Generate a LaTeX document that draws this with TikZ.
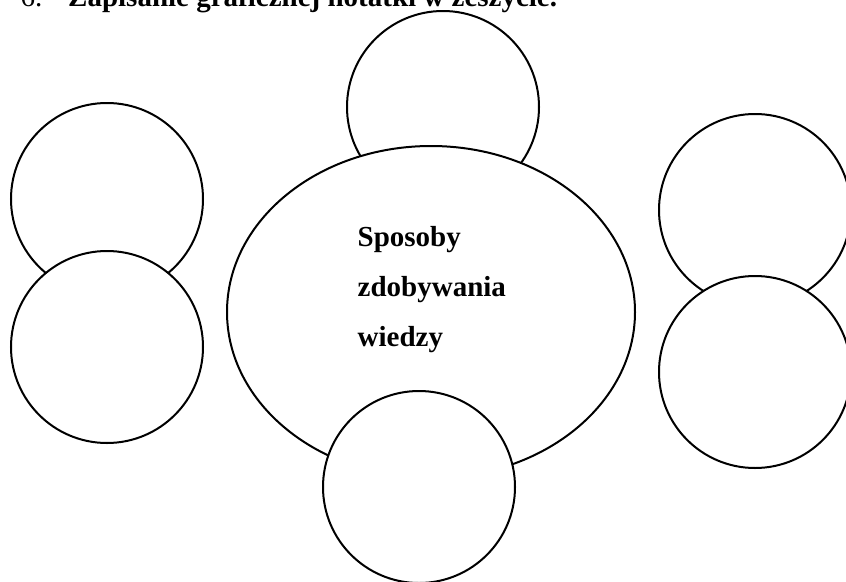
\documentclass[tikz,border=0pt]{standalone}
\usepackage{fontspec}
\setmainfont{Liberation Serif}
\usetikzlibrary{shapes.geometric}
\tikzset{
  bubble/.style={circle,draw,line width=2pt,fill=white,minimum size=192pt,inner sep=0pt},
  word/.style={anchor=base west,inner sep=0pt,font=\fontsize{29}{35}\selectfont\bfseries}
}
\begin{document}
\begin{tikzpicture}[x=1pt,y=-1pt]
\useasboundingbox (0,0) rectangle (846,581);
\node[anchor=base west,inner sep=0pt,font=\fontsize{29}{35}\selectfont] (num) at (20.5,6) {6.};
\node[word] (title) at (68,6) {Zapisanie graficznej notatki w zeszycie.};
\node[bubble] (top) at (443,107) {};
\node[ellipse,draw,line width=2pt,fill=white,minimum width=408pt,minimum height=332pt,inner sep=0pt] (main) at (431,312) {};
\node[bubble] (bottom) at (419,487) {};
\node[bubble] (lefta) at (107,199) {};
\node[bubble] (leftb) at (107,347) {};
\node[bubble] (righta) at (755,210) {};
\node[bubble] (rightb) at (755,372) {};
\node[word] (w1) at (357.5,246.5) {Sposoby};
\node[word] (w2) at (357.5,296.5) {zdobywania};
\node[word] (w3) at (357.5,346.5) {wiedzy};
\end{tikzpicture}
\end{document}
